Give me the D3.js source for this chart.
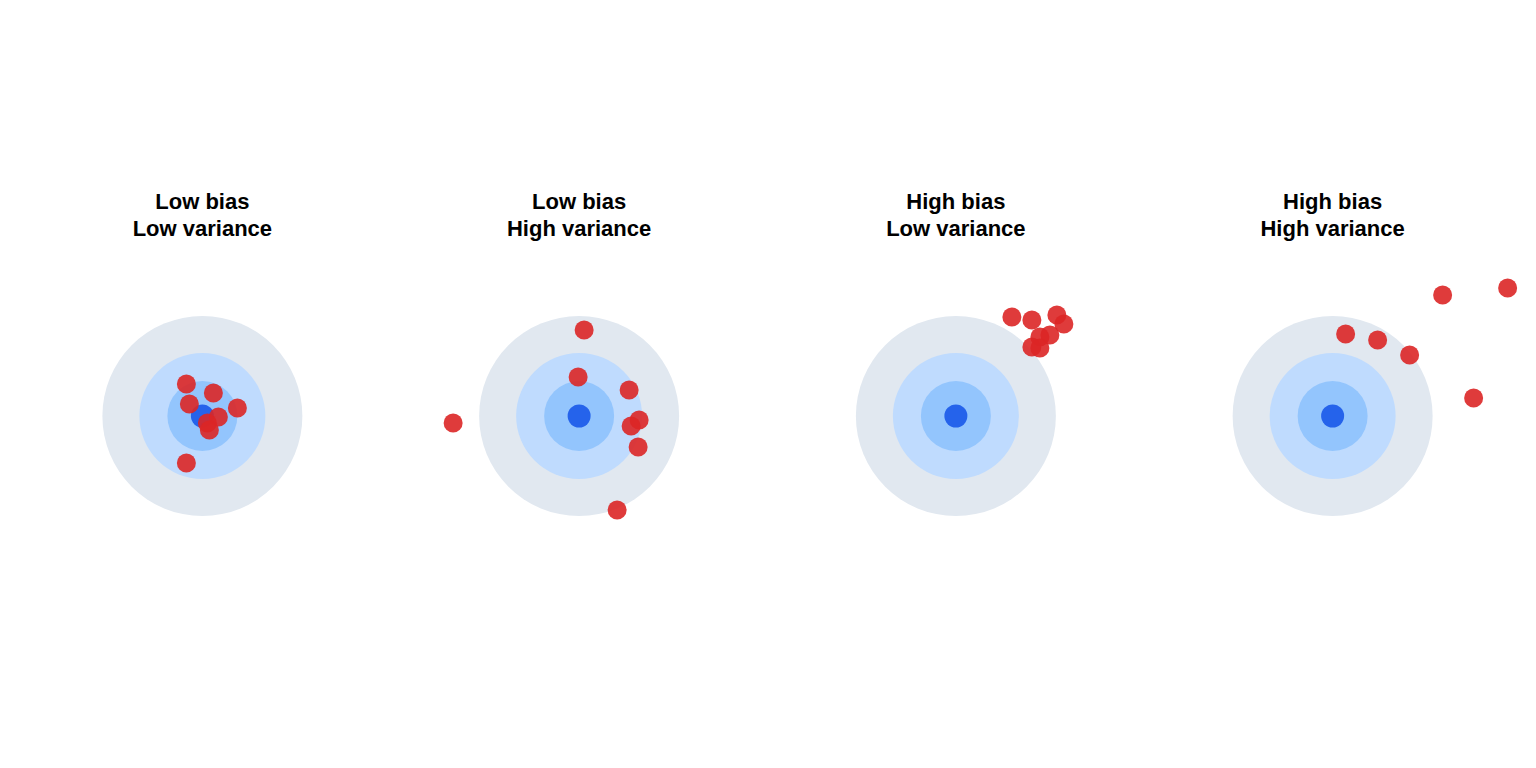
<!DOCTYPE html>
<html><head><meta charset="utf-8">
<script src="https://cdn.jsdelivr.net/npm/d3@7"></script>
<style>body{margin:0;background:#fff}svg{display:block}</style>
</head><body>
<script>
const titles = [["Low bias","Low variance"],["Low bias","High variance"],["High bias","Low variance"],["High bias","High variance"]];
const ringRadii = [1.0, 0.63, 0.35, 0.115];
const ringColors = ["#e1e8f0", "#bfdbfe", "#93c5fd", "#2563eb"];
const pointsLBLV = [[-0.16,-0.32],[0.11,-0.23],[-0.13,-0.12],[0.35,-0.08],[0.16,0.01],[0.05,0.07],[0.07,0.14],[-0.16,0.47]];
const pointsLBHV = [[0.05,-0.86],[-0.01,-0.39],[0.50,-0.26],[0.60,0.04],[0.52,0.10],[0.59,0.31],[0.38,0.94],[-1.26,0.07]];
const pointsHBLV = [[0.56,-0.99],[0.76,-0.96],[1.01,-1.01],[1.08,-0.92],[0.94,-0.81],[0.84,-0.79],[0.76,-0.69],[0.84,-0.68]];
const pointsHBHV = [[0.13,-0.82],[0.45,-0.76],[0.77,-0.61],[1.10,-1.21],[1.75,-1.28],[1.41,-0.18]];
const panels = [pointsLBLV, pointsLBHV, pointsHBLV, pointsHBHV];

const W = 1536, H = 768;
const svg = d3.select("body").append("svg").attr("width", W).attr("height", H);
const cx = d3.scaleBand().domain(d3.range(4)).range([14, 1521]);
const cy = 416;
const s = d3.scaleLinear().domain([0, 1]).range([0, 100]);

panels.forEach((pts, i) => {
  const x0 = cx(i) + cx.bandwidth() / 2;
  const g = svg.append("g").attr("transform", `translate(${x0},${cy})`);
  g.selectAll("circle.ring").data(ringRadii).join("circle")
    .attr("class", "ring").attr("r", d => s(d)).attr("fill", (d, j) => ringColors[j]);
  g.selectAll("circle.pt").data(pts).join("circle")
    .attr("class", "pt").attr("cx", d => s(d[0])).attr("cy", d => s(d[1]))
    .attr("r", 9.5).attr("fill", "#dc2626").attr("fill-opacity", 0.9);
  const t = svg.append("text").attr("x", x0).attr("y", 209).attr("text-anchor", "middle")
    .attr("font-family", "Liberation Sans, Arial, sans-serif").attr("font-weight", "bold")
    .attr("font-size", 22).attr("fill", "#000");
  titles[i].forEach((line, k) => t.append("tspan").attr("x", x0).attr("dy", k ? 27 : 0).text(line));
});
</script>
</body></html>
